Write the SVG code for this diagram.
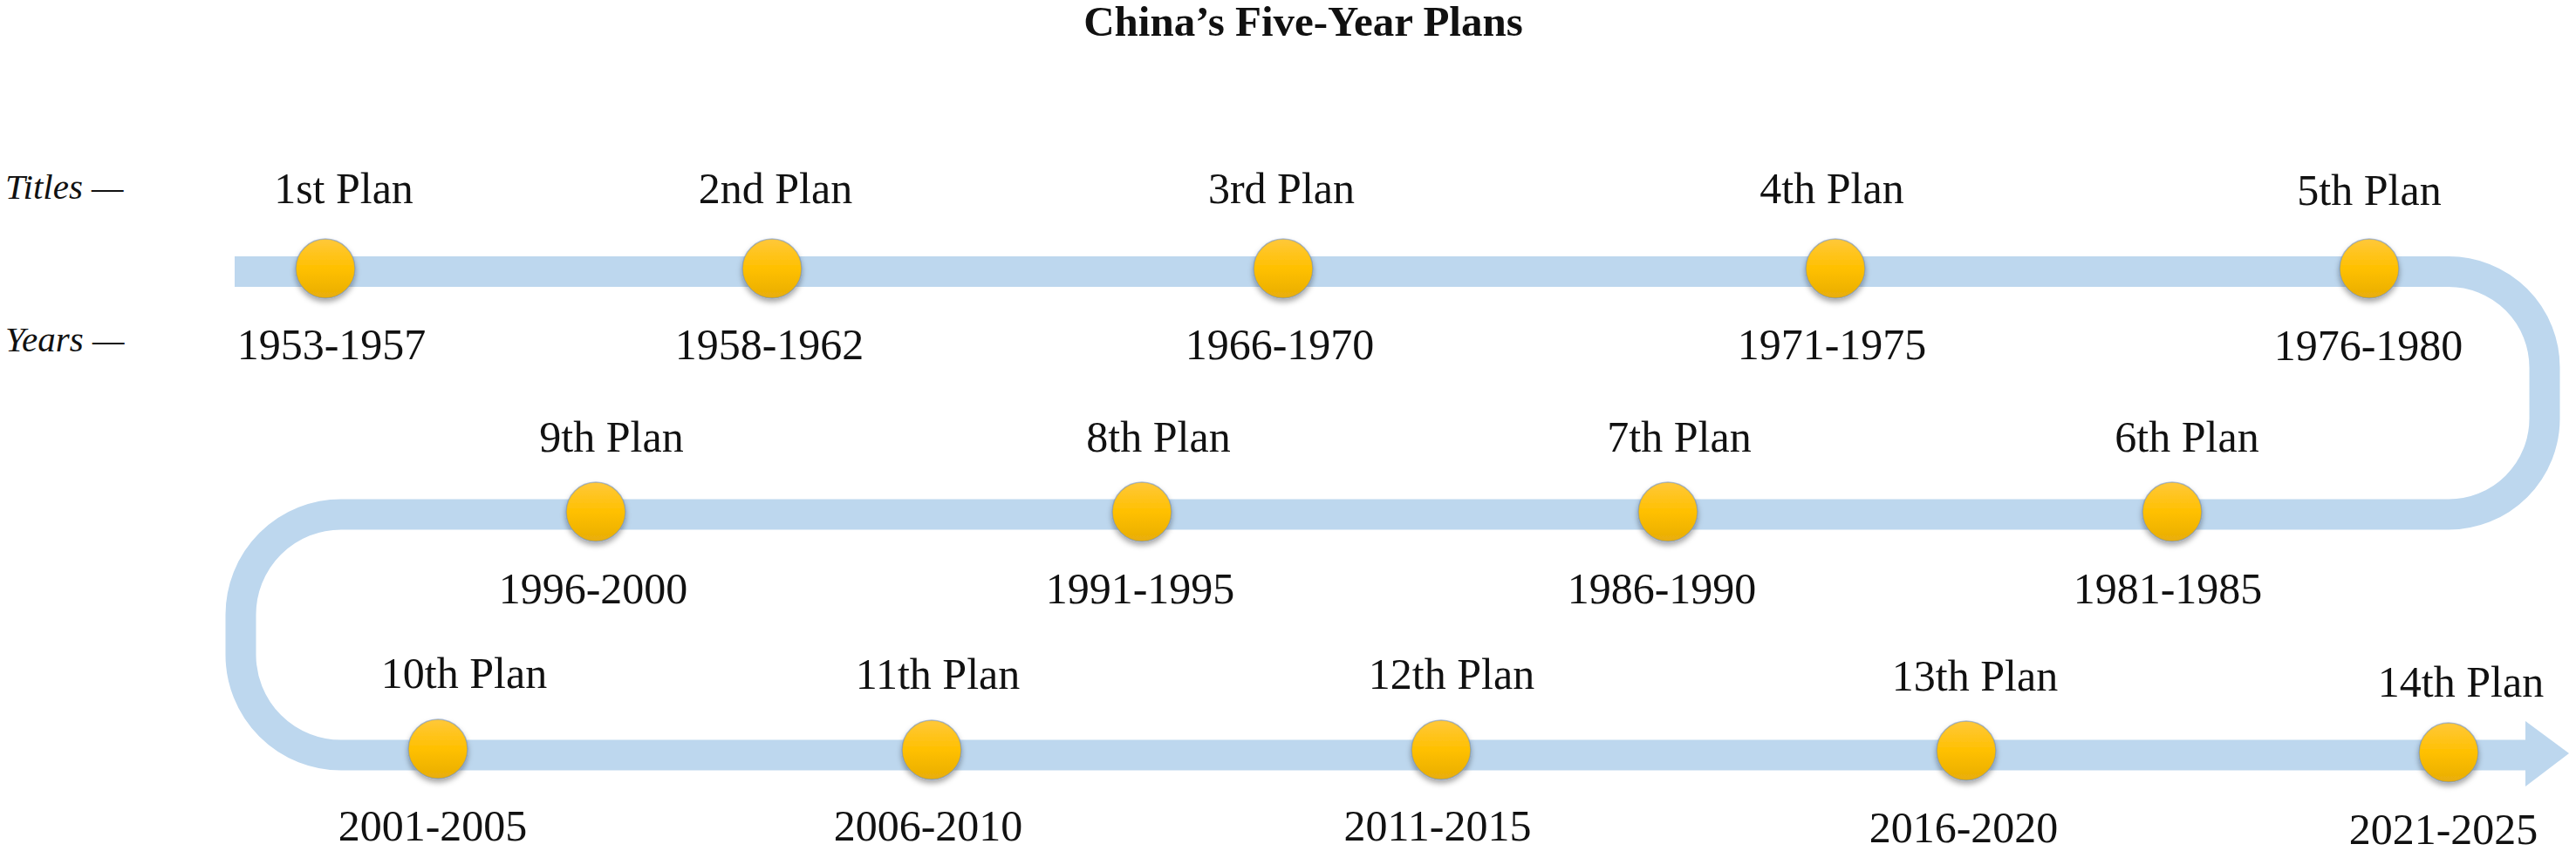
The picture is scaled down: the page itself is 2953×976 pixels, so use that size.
<svg xmlns="http://www.w3.org/2000/svg" width="2953" height="976" viewBox="0 0 2953 976">
<style>
.t{font-family:"Liberation Serif","Times New Roman",serif;font-size:50px;fill:#111;text-anchor:middle}
.h{font-family:"Liberation Serif","Times New Roman",serif;font-size:49px;font-weight:bold;fill:#111;text-anchor:middle}
.l{font-family:"Liberation Serif","Times New Roman",serif;font-size:41px;font-style:italic;fill:#111}
.dot{fill:url(#gy);stroke:#6b8ec4;stroke-opacity:0.55;stroke-width:1.5;filter:url(#sh)}
.band{fill:none;stroke:#bdd7ee;stroke-width:35}
</style>
<defs>
<linearGradient id="gy" x1="0" y1="0" x2="0" y2="1">
<stop offset="0" stop-color="#ffc83a"/>
<stop offset="0.5" stop-color="#ffc000"/>
<stop offset="1" stop-color="#e8ad08"/>
</linearGradient>
<filter id="sh" x="-30%" y="-30%" width="160%" height="170%">
<feDropShadow dx="0" dy="4" stdDeviation="3" flood-color="#000" flood-opacity="0.35"/>
</filter>
</defs>
<rect width="2953" height="976" fill="#fff"/>
<text class="h" x="1494" y="41">China’s Five-Year Plans</text>
<g id="legend">
<text class="l" x="6" y="228">Titles —</text>
<text class="l" x="6" y="403">Years —</text>
</g>
<g id="connectors">
<path class="band" d="M269,311.5 H2807 A110,110 0 0 1 2917,421.5 V480 A110,110 0 0 1 2807,590 H391 A115,115 0 0 0 276,705 V751 A115,115 0 0 0 391,866 H2896"/>
<polygon points="2895,827 2945,864 2895,902" fill="#bdd7ee"/>
</g>
<g id="plan1"><circle class="dot" cx="373" cy="308" r="34"/><text class="t" x="394" y="233">1st Plan</text><text class="t" x="380" y="412">1953-1957</text></g>
<g id="plan2"><circle class="dot" cx="885" cy="308" r="34"/><text class="t" x="889" y="233">2nd Plan</text><text class="t" x="882" y="412">1958-1962</text></g>
<g id="plan3"><circle class="dot" cx="1471" cy="308" r="34"/><text class="t" x="1469" y="233">3rd Plan</text><text class="t" x="1467" y="412">1966-1970</text></g>
<g id="plan4"><circle class="dot" cx="2104" cy="308" r="34"/><text class="t" x="2100" y="233">4th Plan</text><text class="t" x="2100" y="412">1971-1975</text></g>
<g id="plan5"><circle class="dot" cx="2716" cy="308" r="34"/><text class="t" x="2716" y="235">5th Plan</text><text class="t" x="2715" y="413">1976-1980</text></g>
<g id="plan6"><circle class="dot" cx="2490" cy="587" r="34"/><text class="t" x="2507" y="518">6th Plan</text><text class="t" x="2485" y="692">1981-1985</text></g>
<g id="plan7"><circle class="dot" cx="1912" cy="587" r="34"/><text class="t" x="1925" y="518">7th Plan</text><text class="t" x="1905" y="692">1986-1990</text></g>
<g id="plan8"><circle class="dot" cx="1309" cy="587" r="34"/><text class="t" x="1328" y="518">8th Plan</text><text class="t" x="1307" y="692">1991-1995</text></g>
<g id="plan9"><circle class="dot" cx="683" cy="587" r="34"/><text class="t" x="701" y="518">9th Plan</text><text class="t" x="680" y="692">1996-2000</text></g>
<g id="plan10"><circle class="dot" cx="502" cy="859" r="34"/><text class="t" x="532" y="789">10th Plan</text><text class="t" x="496" y="964">2001-2005</text></g>
<g id="plan11"><circle class="dot" cx="1068" cy="860" r="34"/><text class="t" x="1075" y="790">11th Plan</text><text class="t" x="1064" y="964">2006-2010</text></g>
<g id="plan12"><circle class="dot" cx="1652" cy="860" r="34"/><text class="t" x="1664" y="790">12th Plan</text><text class="t" x="1648" y="964">2011-2015</text></g>
<g id="plan13"><circle class="dot" cx="2254" cy="861" r="34"/><text class="t" x="2264" y="792">13th Plan</text><text class="t" x="2251" y="966">2016-2020</text></g>
<g id="plan14"><circle class="dot" cx="2807" cy="863" r="34"/><text class="t" x="2821" y="799">14th Plan</text><text class="t" x="2801" y="968">2021-2025</text></g>
</svg>
